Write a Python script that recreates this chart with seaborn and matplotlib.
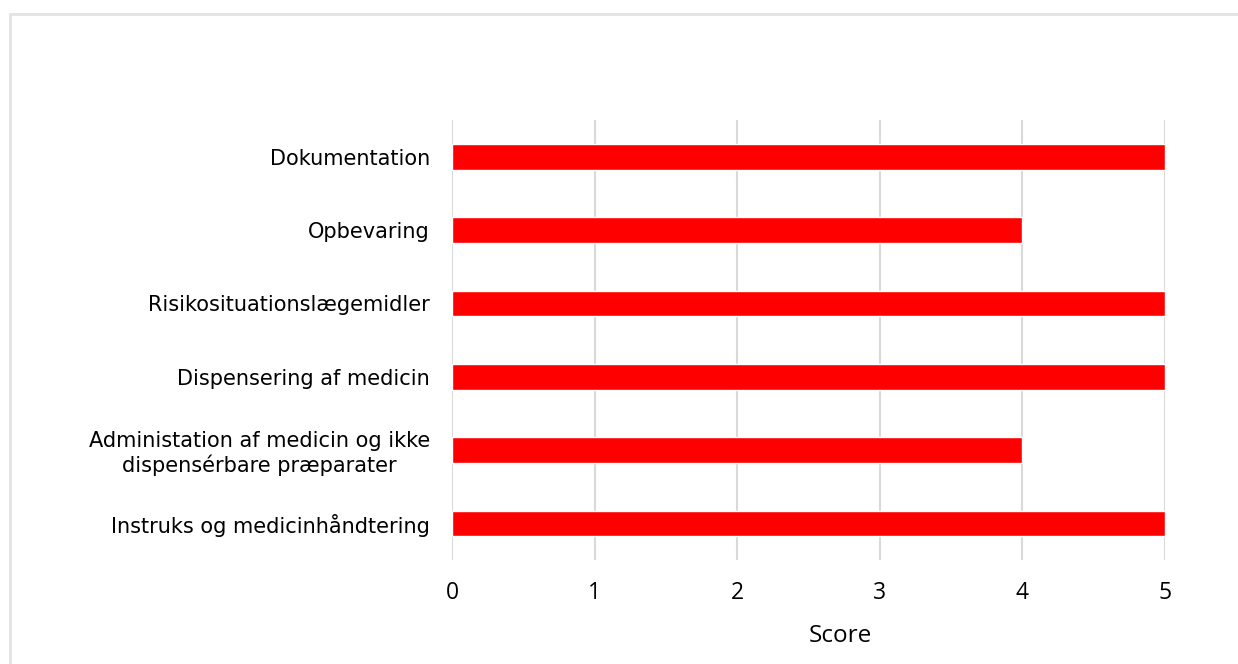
import matplotlib.pyplot as plt
import seaborn as sns
import pandas as pd
from matplotlib.patches import Rectangle

categories = [
    'Dokumentation',
    'Opbevaring',
    'Risikosituationslægemidler',
    'Dispensering af medicin',
    'Administation af medicin og ikke\ndispensérbare præparater',
    'Instruks og medicinhåndtering',
]
scores = [5, 4, 5, 5, 4, 5]
x_ticks = [0, 1, 2, 3, 4, 5]

df = pd.DataFrame({'category': categories, 'score': scores})

sns.set_theme(style='white')
plt.rcParams['font.family'] = ['Open Sans', 'DejaVu Sans']

fig = plt.figure(figsize=(12.38, 6.64), dpi=100)
ax = fig.add_axes([452 / 1238, 1 - 560 / 664, (1165 - 452) / 1238, 440 / 664])

sns.barplot(data=df, x='score', y='category', orient='h', color='#ff0000',
            saturation=1, width=0.35, ax=ax)

ax.set_xlim(0, 5)
ax.set_ylim(5.5, -0.5)
ax.set_xticks(x_ticks)
ax.xaxis.grid(True, color='#d9d9d9', linewidth=1.5)
ax.set_axisbelow(True)
sns.despine(ax=ax, left=True, bottom=True)
ax.tick_params(axis='x', length=0, pad=15, labelsize=16.5, labelcolor='black')
ax.tick_params(axis='y', length=0, pad=16, labelsize=15, labelcolor='black')
for lbl in ax.get_yticklabels():
    lbl.set_family(['DejaVu Sans'])
    lbl.set_fontsize(15)
    lbl.set_multialignment('center')
ax.set_ylabel('')
ax.set_xlabel('Score', fontsize=17.5, color='black')
ax.xaxis.set_label_coords((840 - 452) / 713, -0.173)
ax.xaxis.label.set_verticalalignment('center')

# thin frame around the chart area
fig.patches.append(Rectangle((9.5 / 1238, -0.05), 1.1, 1 - 13.5 / 664 + 0.05,
                             transform=fig.transFigure, fill=False,
                             edgecolor='#e3e3e3', linewidth=2, zorder=0))

fig.savefig('out.png', dpi=100)
